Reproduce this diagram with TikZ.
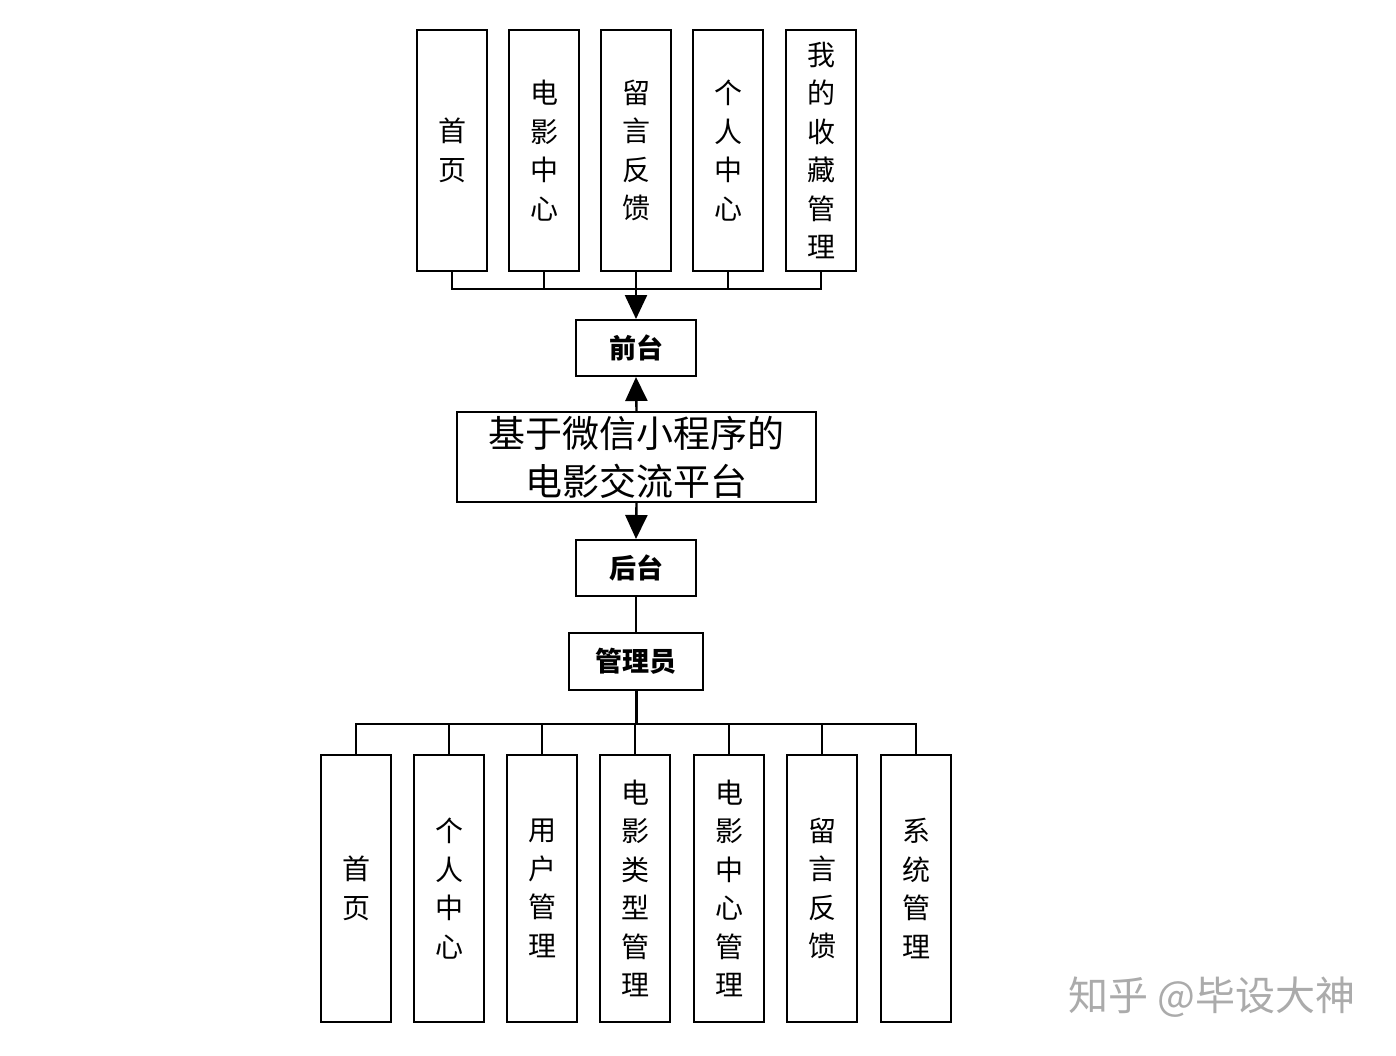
\documentclass[tikz,border=0pt]{standalone}
\usepackage{fontspec}
\setmainfont{Noto Sans CJK SC}
\newfontfamily\cjk{Noto Sans CJK SC}
\usetikzlibrary{arrows.meta}
\begin{document}
\begin{tikzpicture}[x=1pt,y=-1pt,
  box/.style={draw, line width=2pt, inner sep=0pt, align=center},
  vbox/.style={box, minimum width=70pt, minimum height=241pt, font=\cjk\fontsize{28}{38.5}\selectfont},
  bvbox/.style={box, minimum width=70pt, minimum height=267pt, font=\cjk\fontsize{28}{38.5}\selectfont},
  hbox/.style={box, minimum width=120pt, minimum height=56pt, font=\cjk\bfseries\fontsize{27}{30}\selectfont},
  conn/.style={line width=2pt},
  arr/.style={line width=2.4pt, -{Triangle[length=24pt,width=22pt]}}
]
\useasboundingbox (0,0) rectangle (1396,1055);
\fill[white] (0,0) rectangle (1396,1055);
% top boxes
\node[vbox] (t1) at (452,150.5) {首\\页};
\node[vbox] (t2) at (544,150.5) {电\\影\\中\\心};
\node[vbox] (t3) at (636,150.5) {留\\言\\反\\馈};
\node[vbox] (t4) at (728,150.5) {个\\人\\中\\心};
\node[vbox] (t5) at (821,150.5) {我\\的\\收\\藏\\管\\理};
\coordinate (hub1) at (636,289);
\foreach \n in {t1,t2,t3,t4,t5} \draw[conn] (\n.south) |- (hub1);
% middle
\node[hbox] (front) at (636,348) {前台};
\node[box, minimum width=359pt, minimum height=90pt, font=\cjk\fontsize{37}{48}\selectfont] (main) at (636.5,457) {基于微信小程序的\\电影交流平台};
\node[hbox] (back) at (636,568) {后台};
\node[hbox, minimum width=134pt, minimum height=57pt] (admin) at (636,661.5) {管理员};
\draw[arr] (hub1) -- (front.north);
\draw[arr] (main.north) -- (front.south);
\draw[arr] (main.south) -- (back.north);
\draw[conn] (back.south) -- (admin.north);
% bottom boxes
\node[bvbox] (b1) at (356,888.5) {首\\页};
\node[bvbox] (b2) at (449,888.5) {个\\人\\中\\心};
\node[bvbox] (b3) at (542,888.5) {用\\户\\管\\理};
\node[bvbox] (b4) at (635,888.5) {电\\影\\类\\型\\管\\理};
\node[bvbox] (b5) at (729,888.5) {电\\影\\中\\心\\管\\理};
\node[bvbox] (b6) at (822,888.5) {留\\言\\反\\馈};
\node[bvbox] (b7) at (916,888.5) {系\\统\\管\\理};
\coordinate (hub2) at (636,724);
\draw[line width=3pt] (admin.south) -- (hub2);
\foreach \n in {b1,b2,b3,b4,b5,b6,b7} \draw[conn] (hub2) -| (\n.north);
% watermark
\node[font=\cjk\fontsize{40}{40}\selectfont, text=black!33] (wm) at (1212,997) {知乎 @毕设大神};
\end{tikzpicture}
\end{document}
